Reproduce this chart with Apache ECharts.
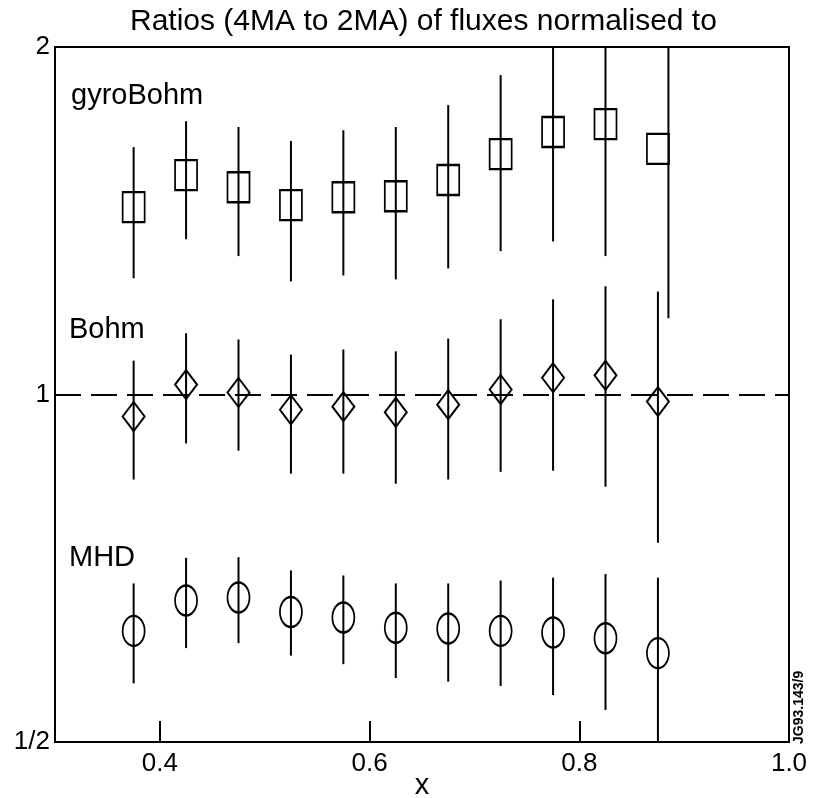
<!DOCTYPE html>
<html>
<head>
<meta charset="utf-8">
<script src="https://cdn.jsdelivr.net/npm/echarts@6/dist/echarts.min.js"></script>
<style>
  html, body { margin: 0; padding: 0; background: #fff; }
  #chart { width: 813px; height: 798px; }
</style>
</head>
<body>
<div id="chart"></div>
<script>
// radial position x and the 4MA/2MA ratios
const xs = [0.375, 0.425, 0.475, 0.525, 0.575, 0.625, 0.675, 0.725, 0.775, 0.825, 0.875];

const gyroBohm = [1.453, 1.549, 1.512, 1.459, 1.482, 1.485, 1.534, 1.615, 1.688, 1.715, 1.632];
const gyroLow  = [1.261, 1.363, 1.318, 1.253, 1.268, 1.258, 1.286, 1.331, 1.357, 1.318, 1.164];
const gyroHigh = [1.638, 1.725, 1.705, 1.658, 1.694, 1.705, 1.781, 1.891, 2.3, 2.3, 2.3];
// last gyroBohm bar is drawn a little right of its box
const gyroBarX = [0.375, 0.425, 0.475, 0.525, 0.575, 0.625, 0.675, 0.725, 0.775, 0.825, 0.885];

const bohm     = [0.957, 1.020, 1.004, 0.970, 0.976, 0.965, 0.980, 1.010, 1.034, 1.039, 0.986];
const bohmLow  = [0.844, 0.907, 0.894, 0.854, 0.854, 0.837, 0.844, 0.857, 0.859, 0.832, 0.744];
const bohmHigh = [1.070, 1.130, 1.116, 1.083, 1.094, 1.090, 1.118, 1.162, 1.209, 1.241, 1.228];

const mhd      = [0.624, 0.663, 0.667, 0.648, 0.641, 0.628, 0.627, 0.624, 0.622, 0.615, 0.597];
const mhdLow   = [0.562, 0.603, 0.609, 0.594, 0.584, 0.568, 0.564, 0.559, 0.549, 0.533, 0.49];
const mhdHigh  = [0.686, 0.722, 0.723, 0.704, 0.697, 0.686, 0.686, 0.690, 0.694, 0.699, 0.694];

const xLabels = [0.4, 0.6, 0.8, 1.0];
const xTicks = [0.4, 0.6, 0.8];

const FONT = 'Liberation Sans, Arial, Helvetica, sans-serif';

function pts(x, y) { return x.map((v, i) => [v, y[i]]); }
function bars(x, lo, hi) { return x.map((v, i) => [v, lo[i], hi[i]]); }

function errBar(params, api) {
  const x = api.value(0);
  const p1 = api.coord([x, api.value(2)]);
  const p2 = api.coord([x, api.value(1)]);
  const cs = params.coordSys;
  const top = Math.max(p1[1], cs.y);
  const bot = Math.min(p2[1], cs.y + cs.height);
  return {
    type: 'line',
    shape: { x1: p1[0], y1: top, x2: p1[0], y2: bot },
    style: { stroke: '#000', lineWidth: 2 }
  };
}

function markerSeries(name, data, symbol, size) {
  return {
    name: name,
    type: 'scatter',
    data: data,
    symbol: symbol,
    symbolSize: size,
    itemStyle: { color: 'rgba(0,0,0,0)', borderColor: '#000', borderWidth: 2, opacity: 1 },
    emphasis: { disabled: true },
    z: 3
  };
}

function barSeries(data) {
  return {
    type: 'custom',
    data: data,
    renderItem: errBar,
    encode: { x: 0, y: [1, 2] },
    z: 2
  };
}

const chart = echarts.init(document.getElementById('chart'));

const option = {
  animation: false,
  backgroundColor: '#fff',
  textStyle: { fontFamily: FONT, color: '#000' },
  title: {
    text: 'Ratios (4MA to 2MA) of fluxes normalised to',
    left: 125,
    top: 2,
    textStyle: { fontFamily: FONT, fontSize: 30, fontWeight: 'normal', color: '#000' }
  },
  grid: {
    left: 55, right: 24, top: 47, bottom: 56,
    outerBoundsMode: 'none',
    containLabel: false,
    show: true, borderColor: '#000', borderWidth: 2, backgroundColor: 'transparent'
  },
  xAxis: {
    type: 'value',
    min: 0.3,
    max: 1.0,
    name: 'x',
    nameLocation: 'middle',
    nameGap: 29,
    nameMoveOverlap: false,
    nameTextStyle: { fontFamily: FONT, fontSize: 29, color: '#000' },
    axisLine: { show: true, lineStyle: { color: '#000', width: 2 } },
    axisTick: {
      show: true, inside: true, length: 21,
      customValues: xTicks,
      lineStyle: { color: '#000', width: 2 }
    },
    axisLabel: {
      customValues: xLabels,
      fontFamily: FONT, fontSize: 26, color: '#000', margin: 9,
      formatter: v => v.toFixed(1)
    },
    splitLine: { show: false }
  },
  yAxis: {
    type: 'log',
    logBase: 2,
    min: 0.5,
    max: 2,
    axisLine: { show: true, lineStyle: { color: '#000', width: 2 } },
    axisTick: { show: false },
    axisLabel: {
      fontFamily: FONT, fontSize: 26, color: '#000', margin: 5,
      formatter: v => Math.abs(v - 0.5) < 1e-6 ? '1/2' : String(Math.round(v))
    },
    splitLine: { show: false }
  },
  series: [
    barSeries(bars(gyroBarX, gyroLow, gyroHigh)),
    barSeries(bars(xs, bohmLow, bohmHigh)),
    barSeries(bars(xs, mhdLow, mhdHigh)),
    markerSeries('gyroBohm', pts(xs, gyroBohm), 'rect', [22, 30]),
    Object.assign(markerSeries('Bohm', pts(xs, bohm), 'diamond', [22, 29]), {
      markLine: {
        silent: true,
        symbol: 'none',
        label: { show: false },
        lineStyle: { color: '#000', width: 2, type: [26, 10] },
        data: [{ yAxis: 1 }]
      }
    }),
    markerSeries('MHD', pts(xs, mhd), 'circle', [22, 30])
  ],
  graphic: [
    { type: 'text', left: 71, top: 81, style: { text: 'gyroBohm', font: '29px ' + FONT, fill: '#000' } },
    { type: 'text', left: 69, top: 315, style: { text: 'Bohm', font: '29px ' + FONT, fill: '#000' } },
    { type: 'text', left: 69, top: 543, style: { text: 'MHD', font: '29px ' + FONT, fill: '#000' } },
    {
      type: 'text', x: 792, y: 744, rotation: Math.PI / 2,
      style: { text: 'JG93.143/9', font: 'bold 14px ' + FONT, fill: '#000' }
    }
  ]
};

chart.setOption(option);
</script>
</body>
</html>
